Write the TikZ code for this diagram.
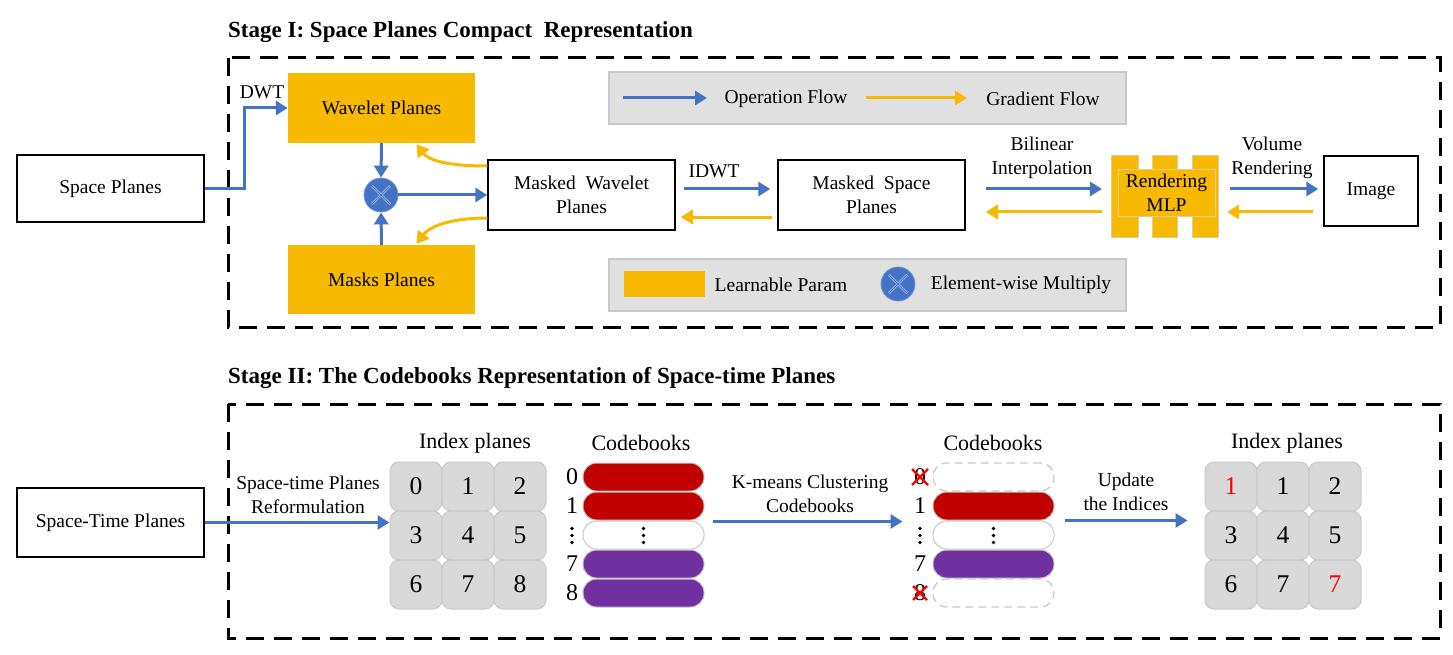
\documentclass[tikz,border=0pt]{standalone}
\usepackage{fontspec}
\setmainfont{Liberation Serif}
\usetikzlibrary{arrows.meta,calc}
\definecolor{yel}{RGB}{247,186,0}
\definecolor{blu}{RGB}{68,114,196}
\definecolor{lgray}{RGB}{224,224,224}
\definecolor{bgray}{RGB}{200,200,200}
\definecolor{cellc}{RGB}{217,217,217}
\definecolor{cred}{RGB}{192,0,0}
\definecolor{cpur}{RGB}{112,48,160}
\definecolor{mlpedge}{RGB}{222,205,150}
\begin{document}
\begin{tikzpicture}[x=1pt,y=-1pt,
 fnt/.style={font=\fontsize{19.5}{24}\selectfont},
 ttl/.style={font=\bfseries\fontsize{23}{27}\selectfont, anchor=west, inner sep=0pt},
 hdr/.style={font=\fontsize{22}{26}\selectfont, inner sep=0pt},
 plainbox/.style={draw=black, line width=1.5pt, fill=white, inner sep=0pt, align=center, fnt},
 ybox/.style={fill=yel, inner sep=0pt, align=center, fnt},
 opflow/.style={draw=blu, line width=3pt, -{Triangle[length=12pt,width=14pt]}},
 gradflow/.style={draw=yel, line width=3pt, -{Triangle[length=12pt,width=14pt]}},
 frame/.style={draw=black, line width=3pt, dash pattern=on 18pt off 10pt},
 legbox/.style={fill=lgray, draw=bgray, line width=1.5pt, inner sep=0pt},
 lbl/.style={fnt, align=center, inner sep=0pt},
 mulc/.style={circle, fill=blu, draw=blu!75!white, line width=0.8pt, minimum size=34pt, inner sep=0pt,
   path picture={\draw[draw=white!80!blu, double=blu, line width=0.6pt, double distance=1.2pt]
     ($(path picture bounding box.center)+(-9,-9)$) -- ($(path picture bounding box.center)+(9,9)$)
     ($(path picture bounding box.center)+(-9,9)$) -- ($(path picture bounding box.center)+(9,-9)$);}},
 cellbox/.style={draw=bgray, fill=cellc, line width=1pt, rounded corners=9pt, minimum width=52pt, minimum height=49pt, inner sep=0pt, font=\fontsize{25.5}{30}\selectfont},
 bar/.style={rounded corners=13.5pt, minimum width=121pt, minimum height=28pt, inner sep=0pt, draw=bgray, line width=1pt},
 dbar/.style={bar, fill=white, dash pattern=on 8pt off 5pt, line width=1.2pt},
 cbl/.style={font=\fontsize{24}{28}\selectfont, inner sep=0pt},
 redx/.style={draw=red, line width=2.4pt},
 mlpbar/.style={fill=yel, draw=mlpedge, line width=0.8pt}
]
\useasboundingbox (0,0) rectangle (1453,655);

% ---------------- Stage I ----------------
\node[ttl] (t1) at (228,32.5) {Stage I: Space Planes Compact \ Representation};
\draw[frame] (228,58) rectangle (1440,327);

\node[legbox, minimum width=517pt, minimum height=52pt] (leg1) at (867.5,98) {};
\node[legbox, minimum width=517pt, minimum height=52pt] (leg2) at (867.5,285) {};
\coordinate (la1) at (623,98);
\coordinate (la2) at (707,98);
\coordinate (lb1) at (866,98);
\coordinate (lb2) at (967,98);
\draw[opflow] (la1) -- (la2);
\draw[gradflow] (lb1) -- (lb2);
\node[lbl] (lopf) at (786,99) {Operation Flow};
\node[lbl] (lgrf) at (1043,99) {Gradient Flow};
\node[fill=yel, minimum width=81pt, minimum height=26pt, inner sep=0pt] (lyel) at (664.5,284) {};
\node[lbl] (llp) at (781,285) {Learnable Param};
\node[mulc] (lmul) at (898,284) {};
\node[lbl] (lem) at (1021,285) {Element-wise Multiply};

\node[plainbox, minimum width=187pt, minimum height=67pt] (sp) at (110.5,188.5) {Space Planes};
\node[ybox, minimum width=187pt, minimum height=70pt] (wav) at (381.5,108) {Wavelet Planes};
\node[ybox, minimum width=187pt, minimum height=69pt] (msk) at (381.5,279.5) {Masks Planes};
\node[mulc] (mul) at (381,195) {};
\node[plainbox, minimum width=187pt, minimum height=70pt] (mw) at (581.5,195) {Masked~~Wavelet\\Planes};
\node[plainbox, minimum width=187pt, minimum height=70pt] (ms) at (871.5,195) {Masked~~Space\\Planes};

% Rendering MLP
\draw[mlpbar] (1111,155) rectangle (1138,237);
\draw[mlpbar] (1152,155) rectangle (1177,237);
\draw[mlpbar] (1192,155) rectangle (1218,237);
\node[fill=yel, draw=mlpedge, line width=0.8pt, minimum width=97pt, minimum height=47pt, inner sep=0pt, align=center, fnt] (mlp) at (1166.5,192.5) {Rendering\\MLP};

\node[plainbox, minimum width=94pt, minimum height=70pt] (img) at (1371,191) {Image};

% arrows stage I
\draw[opflow] (sp.east) -- ($(sp.east)+(40,0)$) |- (wav.west);
\node[lbl] (dwt) at (262,92) {DWT};
\draw[opflow] (wav.south) -- (mul.north);
\draw[opflow] (msk.north) -- (mul.south);
\draw[opflow] (mul.east) -- (mw.west);
\coordinate (g1s) at ($(mw.west)+(0,-29)$);
\coordinate (g1e) at ($(wav.south)+(35,1)$);
\coordinate (g2s) at ($(mw.west)+(0,23)$);
\coordinate (g2e) at ($(msk.north)+(35,-1)$);
\draw[gradflow] (g1s) .. controls ($(g1s)+(-40,0)$) and ($(g1e)+(12,16)$) .. (g1e);
\draw[gradflow] (g2s) .. controls ($(g2s)+(-40,0)$) and ($(g2e)+(12,-16)$) .. (g2e);

\draw[opflow] ($(mw.east)+(8,-6)$) -- ($(ms.west)+(-7,-6)$);
\draw[gradflow] ($(ms.west)+(-5,22)$) -- ($(mw.east)+(5,22)$);
\node[lbl] (idwt) at (714,171) {IDWT};

\coordinate (mlpL) at (1102,189);
\coordinate (mlpL2) at (1102,212);
\draw[opflow] ($(ms.east)+(20,-6)$) -- (mlpL);
\draw[gradflow] (mlpL2) -- ($(ms.east)+(20,17)$);
\node[lbl] (bil) at (1042,158) {Bilinear\\Interpolation};

\coordinate (mlpR) at (1230,189);
\coordinate (mlpR2) at (1227,212);
\draw[opflow] (mlpR) -- ($(img.west)+(-5,-2)$);
\draw[gradflow] ($(img.west)+(-10,21)$) -- (mlpR2);
\node[lbl] (vol) at (1272,158) {Volume\\Rendering};

% ---------------- Stage II ----------------
\node[ttl] (t2) at (228,377.5) {Stage II: The Codebooks Representation of Space-time Planes};
\draw[frame] (228,404) rectangle (1440,638);

\node[plainbox, minimum width=187pt, minimum height=69pt] (stb) at (110.5,522.5) {Space-Time Planes};

% grid 1
\foreach \v [count=\i from 0] in {0,1,2,3,4,5,6,7,8} {
  \pgfmathtruncatemacro\cc{mod(\i,3)}
  \pgfmathtruncatemacro\rr{div(\i,3)}
  \node[cellbox] (a\i) at ({416+52*\cc},{486.5+49*\rr}) {\v};
}
\node[hdr] (h1) at (475,443) {Index planes};

% codebooks 1
\foreach \yy/\col [count=\i from 0] in {477/cred,506/cred,535/white,564/cpur,593/cpur} {
  \node[bar, fill=\col] (p\i) at (643.5,\yy) {};
}
\node[hdr] (h2) at (641,443) {Codebooks};
\node[cbl] (l0) at (572,477) {0};
\node[cbl] (l1) at (572,506) {1};
\node[cbl] (l3) at (572,564) {7};
\node[cbl] (l4) at (572,593) {8};
\foreach \yy in {528.5,535.5,542.5} {\fill (572,\yy) circle (1.8pt); \fill (p2.center |- 0,\yy) circle (1.8pt);}

% codebooks 2
\node[dbar] (q0) at (993.5,477) {};
\node[bar, fill=cred] (q1) at (993.5,506) {};
\node[bar, fill=white] (q2) at (993.5,535) {};
\node[bar, fill=cpur] (q3) at (993.5,564) {};
\node[dbar] (q4) at (993.5,593) {};
\node[hdr] (h3) at (993,443) {Codebooks};
\node[cbl] (m0) at (920,477) {0};
\node[cbl] (m1) at (920,506) {1};
\node[cbl] (m3) at (920,564) {7};
\node[cbl] (m4) at (920,593) {8};
\foreach \yy in {528.5,535.5,542.5} {\fill (920,\yy) circle (1.8pt); \fill (q2.center |- 0,\yy) circle (1.8pt);}
\draw[redx] ($(m0.center)+(-8,-8)$) -- ($(m0.center)+(8,8)$) ($(m0.center)+(-8,8)$) -- ($(m0.center)+(8,-8)$);
\draw[redx] ($(m4.center)+(-7,-7)$) -- ($(m4.center)+(7,7)$) ($(m4.center)+(-7,7)$) -- ($(m4.center)+(7,-7)$);

% grid 2
\foreach \v/\col [count=\i from 0] in {1/red,1/black,2/black,3/black,4/black,5/black,6/black,7/black,7/red} {
  \pgfmathtruncatemacro\cc{mod(\i,3)}
  \pgfmathtruncatemacro\rr{div(\i,3)}
  \node[cellbox, text=\col] (b\i) at ({1231+52*\cc},{486.5+49*\rr}) {\v};
}
\node[hdr] (h4) at (1287,443) {Index planes};

% arrows stage II
\draw[opflow] (stb.east) -- (stb.east -| a3.west);
\node[lbl] (rf) at (308,494.5) {Space-time Planes\\Reformulation};

\coordinate (k1) at ($(p1.south east)+(8,1)$);
\coordinate (k2) at ($(q1.south west)+(-30,1)$);
\draw[opflow] (k1) -- (k2);
\node[lbl] (km) at (810,494) {K-means Clustering\\Codebooks};

\coordinate (u0) at (b0.west |- q1.south);
\draw[opflow] ($(q1.south east)+(10,0)$) -- ($(u0)+(-17,0)$);
\node[lbl] (upd) at (1126,491.5) {Update\\the Indices};
\end{tikzpicture}
\end{document}
